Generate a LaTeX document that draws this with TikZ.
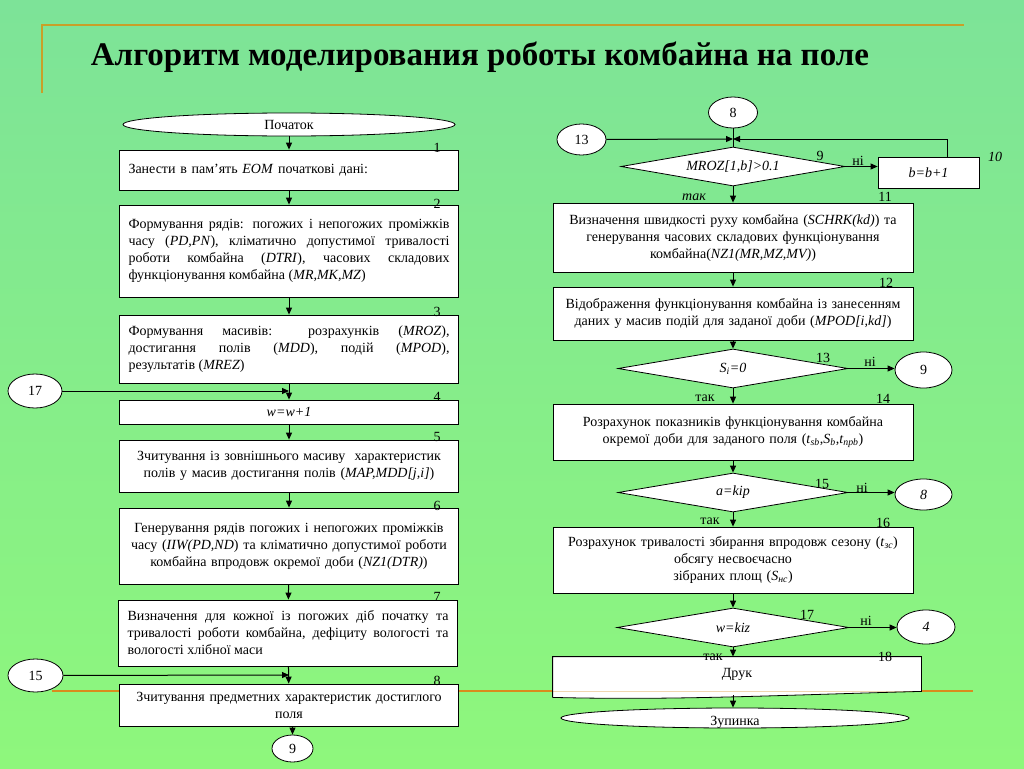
\documentclass[tikz,border=0pt]{standalone}
\usepackage{fontspec}
\setmainfont{Liberation Serif}
\usetikzlibrary{shapes.geometric,arrows.meta}
\definecolor{bgtop}{HTML}{7DE398}
\definecolor{bgbot}{HTML}{8EF77C}
\definecolor{framegold}{HTML}{C8A028}
\definecolor{ruleorange}{HTML}{D88C1E}

\begin{document}
\begin{tikzpicture}[x=1pt,y=-1pt,
    every node/.style={font=\fontsize{14}{17}\selectfont,inner sep=0pt},
    box/.style={rectangle,draw,fill=white,line width=0.8pt,inner xsep=9pt,inner ysep=2pt},
    lbox/.style={box,text width=321pt,minimum width=339pt},
    rbox/.style={box,text width=342pt,minimum width=360pt,align=center},
    test/.style={diamond,aspect=5.8,draw,fill=white,line width=0.8pt,minimum width=230pt,minimum height=39pt},
    term/.style={ellipse,draw,fill=white,line width=0.8pt},
    arr/.style={line width=1pt,-{Triangle[length=7pt,width=6pt]}}]

        % Slide
        \shade[top color=bgtop,bottom color=bgbot] (0,0) rectangle (1024,768);
        \useasboundingbox (0,0) rectangle (1024,768);
        \draw[framegold,line width=2pt] (42,93) -- (42,25) -- (964,25);
        \draw[ruleorange,line width=2.5pt] (52,691) -- (973,691);
        \node[font=\fontsize{33}{38}\selectfont\bfseries] (title) at (480,57) {Алгоритм моделирования роботы комбайна на поле};

        % Left column
        \node[term,minimum width=332pt,minimum height=23pt] (start) at (289,124.5) {Початок};
        \node[lbox,minimum height=40pt,align=left] (b1) at (289,170) {Занести в пам’ять \textit{EOM} початкові дані:};
        \node[lbox,minimum height=92pt,align=justify] (b2) at (289,251) {Формування рядів: погожих і непогожих проміжків\linebreak часу (\textit{PD,PN}), кліматично допустимої тривалості\linebreak роботи комбайна (\textit{DTRI}), часових складових\linebreak функціонування комбайна (\textit{MR,MK,MZ})};
        \node[lbox,minimum height=68pt,align=justify] (b3) at (289,349) {Формування масивів: розрахунків (\textit{MROZ}),\linebreak достигання полів (\textit{MDD}), подій (\textit{MPOD}),\linebreak результатів (\textit{MREZ})};
        \node[lbox,minimum height=24pt,align=center] (b4) at (289,412) {\textit{w=w+1}};
        \node[lbox,minimum height=52pt,align=center] (b5) at (289,466) {Зчитування із зовнішнього масиву \ характеристик\\полів у масив достигання полів (\textit{MAP,MDD[j,i]})};
        \node[lbox,minimum height=76pt,align=center] (b6) at (289,546) {Генерування рядів погожих і непогожих проміжків\\часу (\textit{IIW(PD,ND}) та кліматично допустимої роботи\\комбайна впродовж окремої доби (\textit{NZ1(DTR)})};
        \node[lbox,minimum height=66pt,align=justify] (b7) at (288,633) {Визначення для кожної із погожих діб початку та\linebreak тривалості роботи комбайна, дефіциту вологості та\linebreak вологості хлібної маси};
        \node[lbox,minimum height=42pt,align=center] (b8) at (289,705) {Зчитування предметних характеристик достиглого\\поля};
        \node[term,minimum width=54pt,minimum height=34pt] (c17) at (35,391) {17};
        \node[term,minimum width=55pt,minimum height=33pt] (c15) at (35.5,675.5) {15};
        \node[term,minimum width=41pt,minimum height=27pt] (c9) at (292.5,748.5) {9};
        \coordinate (j4) at (289,391);
        \coordinate (j8) at (289,675);
        \foreach \a/\b in {start/b1,b1/b2,b2/b3,b3/b4,b4/b5,b5/b6,b6/b7,b7/b8} \draw[arr] (\a) -- (\b);
        \draw[arr] (c17) -- (j4);
        \draw[arr] (c15) -- (j8);
        \draw[arr] (b8.south -| c9) -- (c9);
        \foreach \n/\y in {1/148,2/204,3/312,4/397,5/437,6/506,7/597,8/681} \node (ln\n) at (437,\y) {\n};

        % Right column
        \node[term,minimum width=49pt,minimum height=31pt] (r8) at (733,112.5) {8};
        \node[term,minimum width=49pt,minimum height=31pt] (r13) at (581.5,139.5) {13};
        \coordinate (j9) at (733,139);
        \node[test,minimum width=224pt] (d9) at (733,166.5) {\textit{MROZ[1,b]>0.1}};
        \node[box,minimum width=101pt,minimum height=31pt] (b10) at (928.5,172.5) {\textit{b=b+1}};
        \node[rbox,minimum height=69pt] (b11) at (733,237.5) {Визначення швидкості руху комбайна (\textit{SCHRK(kd)}) та\\генерування часових складових функціонування\\комбайна(\textit{NZ1(MR,MZ,MV)})};
        \node[rbox,minimum height=53pt] (b12) at (733,313.5) {Відображення функціонування комбайна із занесенням\\даних у масив подій для заданої доби (\textit{MPOD[i,kd]})};
        \node[test] (d13) at (733,368.5) {\textit{S}\textsubscript{\textit{i}}\textit{=0}};
        \node[term,minimum width=57pt,minimum height=36pt] (r9) at (923.5,370) {9};
        \node[rbox,minimum height=56pt] (b14) at (733,432) {Розрахунок показників функціонування комбайна\\окремої доби для заданого поля (\textit{t}\textsubscript{\textit{sb}},\textit{S}\textsubscript{\textit{b}},\textit{t}\textsubscript{\textit{npb}})};
        \node[test] (d15) at (733,492.5) {\textit{a=kip}};
        \node[term,minimum width=57pt,minimum height=31pt] (r8b) at (923.5,494.5) {\textit{8}};
        \node[rbox,minimum height=66pt] (b16) at (733,560) {Розрахунок тривалості збирання впродовж сезону (\textit{t}\textsubscript{\textit{зс}})\\обсягу несвоєчасно\\зібраних площ (\textit{S}\textsubscript{\textit{нс}})};
        \node[test,minimum width=232pt] (d17) at (733,627.5) {\textit{w=kiz}};
        \node[term,minimum width=58pt,minimum height=34pt] (r4) at (926,627) {\textit{4}};
        \node[rbox,minimum width=368pt,minimum height=34pt,draw=none] (b18) at (737,674) {Друк};
        \fill[white] (b18.south west) -- (b18.south east) .. controls +(-150,4) and +(120,3) .. ([yshift=-6pt]b18.south west) -- cycle;
        \draw[line width=0.8pt] ([yshift=-6pt]b18.south west) -- (b18.north west) -- (b18.north east) -- (b18.south east) .. controls +(-150,4) and +(120,3) .. ([yshift=-6pt]b18.south west);
        \node[term,minimum width=348pt,minimum height=20pt,text height=14pt,text depth=0pt] (stop) at (735,718) {Зупинка};
        \draw[line width=1pt] (r8) -- (d9);
        \draw[arr] (r13) -- (j9);
        \draw[arr] ([xshift=18.5pt]b10.north) |- (j9);
        \draw[arr] (d9.east) -- (d9.east -| b10.west);
        \foreach \a/\b in {d9/b11,b11/b12,b12/d13,d13/b14,b14/d15,d15/b16,b16/d17} \draw[arr] (\a) -- (\b);
        \draw[arr] (d17) -- (d17 |- b18.north);
        \draw[arr] ([yshift=-4pt]b18.south -| d17) -- (d17 |- stop.north);
        \foreach \a/\b in {d13/r9,d15/r8b,d17/r4} \draw[arr] (\a.east) -- (\a.east -| \b.west);
        \foreach \n/\x/\y in {9/820/156,11/885/197,12/886/283,13/823/358,14/883/399,15/822/484,16/883/523,17/807/615,18/885/657} \node (rn\n) at (\x,\y) {\n};
        \node (rn10) at (995,157) {\textit{10}};
        \foreach \n/\x/\y in {9/858/161,13/870/362,15/862/488,17/866/621} \node (no\n) at (\x,\y) {ні};
        \node (yes9) at (694,197) {\textit{так}};
        \foreach \n/\x/\y in {13/705/398,15/710/521,17/713/657} \node (yes\n) at (\x,\y) {так};
    \end{tikzpicture}
\end{document}
